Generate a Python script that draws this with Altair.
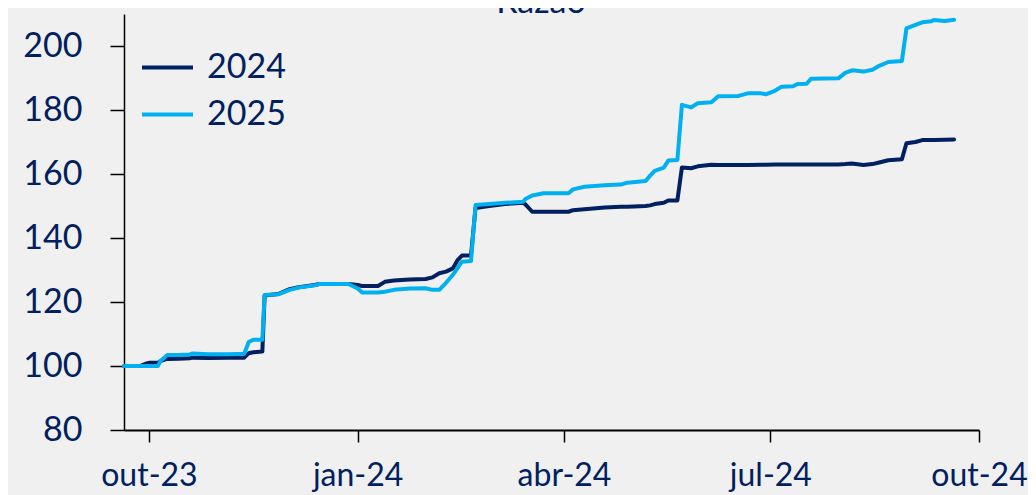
import altair as alt
import pandas as pd

# ---- data ----
dates = [
    "2023-09-20", "2023-09-27", "2023-09-30", "2023-10-01", "2023-10-05", "2023-10-06",
    "2023-10-09", "2023-10-14", "2023-10-19", "2023-10-20", "2023-10-27", "2023-11-05",
    "2023-11-12", "2023-11-14", "2023-11-16", "2023-11-20", "2023-11-21", "2023-11-27",
    "2023-12-02", "2023-12-06", "2023-12-13", "2023-12-15", "2023-12-28", "2024-01-01",
    "2024-01-03", "2024-01-10", "2024-01-13", "2024-01-17", "2024-01-24", "2024-01-31",
    "2024-02-03", "2024-02-06", "2024-02-09", "2024-02-12", "2024-02-14", "2024-02-16",
    "2024-02-20", "2024-02-22", "2024-02-28", "2024-03-06", "2024-03-14", "2024-03-15",
    "2024-03-18", "2024-03-23", "2024-04-03", "2024-04-05", "2024-04-10", "2024-04-19",
    "2024-04-26", "2024-04-29", "2024-05-07", "2024-05-09", "2024-05-11", "2024-05-15",
    "2024-05-17", "2024-05-21", "2024-05-23", "2024-05-27", "2024-05-30", "2024-06-05",
    "2024-06-08", "2024-06-17", "2024-06-21", "2024-06-27", "2024-06-29", "2024-07-03",
    "2024-07-06", "2024-07-11", "2024-07-13", "2024-07-17", "2024-07-19", "2024-07-31",
    "2024-08-03", "2024-08-06", "2024-08-11", "2024-08-15", "2024-08-18", "2024-08-22",
    "2024-08-28", "2024-08-30", "2024-09-03", "2024-09-06", "2024-09-10", "2024-09-11",
    "2024-09-16", "2024-09-20",
]
v2024 = [
    100.0, 100.0, 100.8, 101.0, 101.0, 101.5,
    102.2, 102.3, 102.4, 102.6, 102.5, 102.6,
    102.6, 104.0, 104.3, 104.5, 122.0, 122.5,
    124.0, 124.6, 125.3, 125.6, 125.6, 125.3,
    125.0, 125.0, 126.3, 126.7, 127.0, 127.2,
    127.7, 129.0, 129.5, 130.5, 133.0, 134.5,
    134.5, 149.4, 150.0, 150.6, 151.0, 150.5,
    148.2, 148.2, 148.2, 148.7, 149.0, 149.5,
    149.8, 149.8, 150.0, 150.2, 150.6, 151.0,
    151.7, 151.7, 162.0, 161.8, 162.4, 162.9,
    162.8, 162.8, 162.8, 162.9, 162.9, 163.0,
    163.0, 163.0, 163.0, 163.0, 163.0, 163.0,
    163.1, 163.3, 162.8, 163.1, 163.6, 164.3,
    164.6, 169.6, 170.0, 170.6, 170.6, 170.6,
    170.7, 170.8,
]
v2025 = [
    100.0, 100.0, 100.0, 100.0, 100.0, 101.5,
    103.4, 103.4, 103.6, 103.9, 103.7, 103.7,
    103.8, 107.5, 108.2, 108.2, 122.2, 122.4,
    123.8, 124.5, 125.2, 125.6, 125.6, 124.2,
    123.0, 123.0, 123.2, 123.8, 124.2, 124.3,
    123.8, 123.8, 126.0, 128.5, 130.5, 132.6,
    132.8, 150.3, 150.6, 151.0, 151.3, 152.2,
    153.3, 154.0, 154.0, 155.2, 156.0, 156.5,
    156.7, 157.3, 157.8, 159.5, 161.0, 162.0,
    164.2, 164.4, 181.6, 180.8, 182.1, 182.4,
    184.3, 184.4, 185.2, 185.2, 184.9, 186.0,
    187.3, 187.4, 188.1, 188.2, 189.8, 189.9,
    191.6, 192.4, 192.0, 192.6, 193.8, 195.0,
    195.3, 205.5, 206.6, 207.4, 207.7, 208.1,
    207.8, 208.2,
]
series_names = ["2024", "2025"]
series_colors = ["#002060", "#00B0F0"]
y_ticks = [80, 100, 120, 140, 160, 180, 200]
x_tick_dates = ["2023-10-01", "2024-01-01", "2024-04-01", "2024-07-01", "2024-10-01"]
months_pt = ["jan", "fev", "mar", "abr", "mai", "jun", "jul", "ago", "set", "out", "nov", "dez"]
title_text = "Razão"

FONT = "Lato"
TEXT = "#002060"
FS = 34

df = pd.DataFrame({
    "date": dates * 2,
    "value": v2024 + v2025,
    "serie": [series_names[0]] * len(dates) + [series_names[1]] * len(dates),
})


def dt(s):
    return alt.DateTime(year=int(s[:4]), month=int(s[5:7]), date=int(s[8:10]), utc=True)


month_arr = "[" + ",".join("'%s'" % m for m in months_pt) + "]"
label_expr = month_arr + "[utcmonth(datum.value)] + '-' + utcFormat(datum.value, '%y')"

lines = alt.Chart(df).mark_line(strokeWidth=4, strokeJoin="round", strokeCap="round").encode(
    x=alt.X(
        "date:T",
        scale=alt.Scale(type="utc", domain=[dt("2023-09-20"), dt("2024-10-01")]),
        axis=alt.Axis(
            title=None,
            values=[dt(d) for d in x_tick_dates],
            labelExpr=label_expr,
            labelFontSize=32,
            tickSize=12,
            labelPadding=18,
            domainWidth=2,
            labelFlush=False,
            labelOverlap=False,
        ),
    ),
    y=alt.Y(
        "value:Q",
        scale=alt.Scale(domain=[80, 210], nice=False, zero=False),
        axis=alt.Axis(
            title=None,
            values=y_ticks,
            tickSize=14,
            labelPadding=28,
            domainWidth=1.5,
        ),
    ),
    color=alt.Color(
        "serie:N",
        scale=alt.Scale(domain=series_names, range=series_colors),
        legend=alt.Legend(
            title=None,
            orient="none",
            legendX=16,
            legendY=26,
            symbolType="stroke",
            symbolSize=2601,
            symbolStrokeWidth=4,
            labelFont=FONT,
            labelFontSize=FS,
            labelColor=TEXT,
            labelOffset=12,
            labelLimit=300,
            rowPadding=2,
            padding=0,
        ),
    ),
    order=alt.Order("date:T"),
)

title_layer = alt.Chart(pd.DataFrame({"t": [title_text]})).mark_text(
    font=FONT, fontSize=FS, color=TEXT, baseline="alphabetic", align="center"
).encode(
    text="t:N",
    x=alt.value(417),
    y=alt.value(-1),
)

chart = alt.layer(lines, title_layer).properties(
    width=855,
    height=416,
    autosize=alt.AutoSizeParams(type="none"),
    padding={"left": 116, "top": 6, "right": 49, "bottom": 65},
    background="#f0f0f0",
).configure_view(
    stroke=None,
).configure_axis(
    grid=False,
    labelFont=FONT,
    labelFontSize=FS,
    labelColor=TEXT,
    domainColor="#000000",
    tickColor="#000000",
    tickWidth=1.5,
)

chart.save("out.html", embed_options={"renderer": "svg", "actions": False})
